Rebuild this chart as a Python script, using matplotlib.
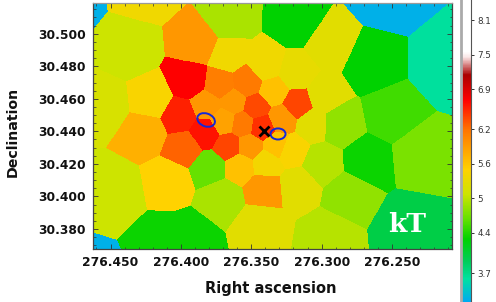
import numpy as np
import matplotlib
matplotlib.use("Agg")
import matplotlib.pyplot as plt
from matplotlib.colors import LinearSegmentedColormap, Normalize
from matplotlib.cm import ScalarMappable
from matplotlib.patches import Ellipse
from matplotlib.ticker import MultipleLocator, FixedLocator

# Voronoi cell generators (RA, Dec in degrees) and temperature in each cell
cell_ra = [276.4823,276.4241,276.4361,276.3878,276.3658,276.3189,276.2940,276.2535,276.2116,276.2656,
           276.2514,276.2869,276.2300,276.2684,276.2812,276.2393,276.2954,276.3438,276.3175,276.3409,
           276.3395,276.3580,276.3793,276.3708,276.4077,276.3935,276.4667,276.4539,276.4468,276.4205,
           276.4248,276.3935,276.4006,276.3971,276.3828,276.3658,276.3516,276.3423,276.3317,276.3288,
           276.3175,276.3345,276.3466,276.3530,276.3722,276.3814,276.3629,276.3693,276.3565,276.3665,
           276.3189,276.3068,276.3224,276.3004,276.3402,276.2990,276.4099]
cell_dec = [30.5219,30.5269,30.4900,30.4937,30.5084,30.5072,30.4924,30.5238,30.4808,30.4814,
            30.4501,30.4439,30.4255,30.4224,30.4009,30.3806,30.3763,30.3831,30.4070,30.4052,
            30.4206,30.4187,30.4181,30.3997,30.4101,30.3745,30.3487,30.4562,30.4040,30.4593,
            30.4396,30.4709,30.4494,30.4304,30.4390,30.4310,30.4310,30.4427,30.4316,30.4476,
            30.4568,30.4642,30.4550,30.4697,30.4685,30.4562,30.4580,30.4464,30.4445,30.4863,
            30.4752,30.4445,30.4285,30.4206,30.4802,30.4617,30.3720]
cell_kt = [3.25,5.37,5.07,5.93,4.93,4.29,5.25,3.25,3.62,4.29,
           4.52,4.83,4.73,4.33,4.83,3.98,4.98,5.25,5.25,5.93,
           5.40,5.62,4.65,4.93,5.50,4.33,3.25,5.15,5.07,5.45,
           5.75,6.71,6.57,6.27,6.63,6.40,5.93,6.50,5.62,5.93,
           6.40,5.62,6.38,6.15,6.12,5.93,5.93,5.85,6.15,5.37,
           5.30,5.25,5.45,4.98,5.37,5.25,4.33]

ellipse_ra = [276.3821, 276.3310]
ellipse_dec = [30.4470, 30.4384]
ellipse_w = [0.0128, 0.0107]
ellipse_h = [0.0080, 0.0068]
ellipse_angle = [15, 0]
cross_ra = [276.3413]
cross_dec = [30.4405]

x_ticks = [276.45, 276.40, 276.35, 276.30, 276.25]
y_ticks = [30.38, 30.40, 30.42, 30.44, 30.46, 30.48, 30.50]
cbar_ticks = [3.7, 4.4, 5.0, 5.6, 6.2, 6.9, 7.5, 8.1]
cbar_labels = ["3.7", "4.4", "5", "5.6", "6.2", "6.9", "7.5", "8.1"]

KT_MIN, KT_MAX = 3.2, 8.45
stops = [(3.2, (0, 170, 240)), (3.6, (0, 225, 160)), (3.9, (0, 205, 90)), (4.29, (0, 210, 0)),
         (4.64, (100, 225, 0)), (5.07, (205, 228, 0)), (5.5, (255, 210, 0)), (6.2, (255, 115, 0)),
         (6.71, (255, 0, 0)), (7.15, (170, 0, 0)), (7.46, (250, 230, 230)), (7.55, (255, 255, 255)),
         (8.45, (255, 255, 255))]
cmap = LinearSegmentedColormap.from_list(
    "kt", [((v - KT_MIN) / (KT_MAX - KT_MIN), tuple(c / 255 for c in rgb)) for v, rgb in stops], N=512)
norm = Normalize(KT_MIN, KT_MAX)

W, H = 496, 302
fig = plt.figure(figsize=(W / 100, H / 100), dpi=100)
L, R, T, B = 92.7, 451.5, 3.0, 249.3
ax = fig.add_axes([L / W, 1 - B / H, (R - L) / W, (B - T) / H])
xlim = (276.4627, 276.2077)
ylim = (30.3675, 30.5189)

gx = np.linspace(xlim[0], xlim[1], 720)
gy = np.linspace(ylim[0], ylim[1], 500)
X, Y = np.meshgrid(gx, gy)
cosd = np.cos(np.radians(np.mean(ylim)))
sra, sdec, skt = map(np.array, (cell_ra, cell_dec, cell_kt))
d2 = ((X[..., None] - sra) * cosd) ** 2 + (Y[..., None] - sdec) ** 2
Z = skt[np.argmin(d2, axis=-1)]
ax.pcolormesh(X, Y, Z, cmap=cmap, norm=norm, shading="auto", rasterized=True)

for ra, dec, w, h, a in zip(ellipse_ra, ellipse_dec, ellipse_w, ellipse_h, ellipse_angle):
    ax.add_patch(Ellipse((ra, dec), w, h, angle=a, fill=False, ec="#1428d8", lw=1.4))
ax.plot(cross_ra, cross_dec, marker="x", ms=7.5, mew=2, color="k", ls="none")

ax.set_xlim(*xlim)
ax.set_ylim(*ylim)
ax.xaxis.set_major_locator(FixedLocator(x_ticks))
ax.yaxis.set_major_locator(FixedLocator(y_ticks))
ax.xaxis.set_minor_locator(MultipleLocator(0.01))
ax.yaxis.set_minor_locator(MultipleLocator(0.005))
ax.set_xticklabels([f"{v:.3f}" for v in x_ticks], fontweight="bold", fontsize=8.8, color="#111")
ax.set_yticklabels([f"{v:.3f}" for v in y_ticks], fontweight="bold", fontsize=8.8, color="#111")
ax.tick_params(which="major", direction="in", top=True, right=True, length=3.5, width=0.6, color="#333", pad=5)
ax.tick_params(which="minor", direction="in", top=True, right=True, length=1.8, width=0.5, color="#333")
for s in ax.spines.values():
    s.set_linewidth(0.9)
    s.set_color("#444")
ax.spines["top"].set_color("#999")

fig.text(271 / W, 1 - 289 / H, "Right ascension", fontweight="bold", fontsize=10.5, ha="center", va="center", color="#111")
fig.text(13 / W, 1 - 132 / H, "Declination", fontweight="bold", fontsize=10.2, rotation=90, ha="center", va="center", color="#111")
fig.text(407 / W, 1 - 225 / H, "kT", family="DejaVu Serif", fontweight="bold", fontsize=19, color="white", ha="center", va="center")

cax = fig.add_axes([461 / W, 0, 10 / W, 1])
cb = fig.colorbar(ScalarMappable(norm=norm, cmap=cmap), cax=cax)
cb.set_ticks(cbar_ticks)
cb.set_ticklabels(cbar_labels)
cb.minorticks_off()
cax.tick_params(length=2.5, width=0.7, color="#333", labelsize=6.3, labelcolor="#333", pad=2)
cb.outline.set_visible(False)
cax.spines["left"].set_visible(True)
cax.spines["left"].set_color("#aaa")
cax.spines["left"].set_linewidth(2)
cax.spines["right"].set_visible(True)
cax.spines["right"].set_color("#555")
cax.spines["right"].set_linewidth(0.8)

fig.savefig("out.png", dpi=100)
